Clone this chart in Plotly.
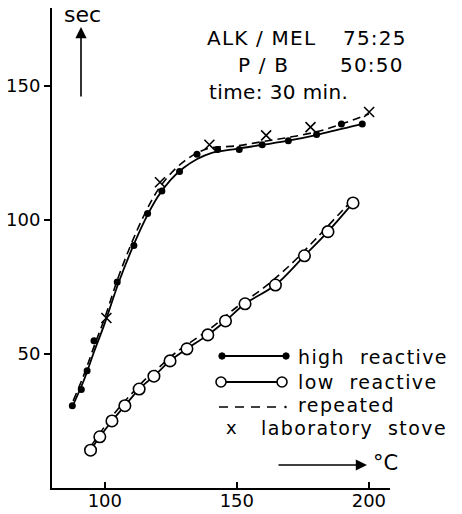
import plotly.graph_objects as go

# ---------------- data ----------------
# high reactive: measured points (filled dots)
high_x = [87.7, 91.1, 93.3, 95.9, 104.7, 111.0, 116.2, 121.6, 128.3, 134.9,
          142.7, 150.9, 159.6, 169.5, 180.2, 189.6, 197.5]
high_y = [30.7, 36.7, 43.7, 54.9, 76.8, 90.4, 102.4, 110.8, 118.0, 124.5,
          126.2, 126.2, 128.0, 129.5, 131.8, 135.7, 135.7]
# high reactive: drawn smooth curve (solid)
high_curve_x = [88, 92, 96, 100, 105, 110, 115, 120, 125, 130, 135, 140,
                150, 160, 170, 180, 190, 197.5]
high_curve_y = [31.0, 40.0, 51.0, 61.5, 76.0, 88.5, 99.5, 108.5, 115.0, 119.5,
                122.7, 124.8, 126.5, 128.0, 129.6, 131.6, 134.0, 135.7]
# high reactive: repeated (dashed)
high_rep_x = [88, 92, 96, 100, 105, 110, 115, 120, 125, 130, 135, 140,
              150, 160, 170, 180, 190, 200]
high_rep_y = [32.5, 42.0, 53.0, 63.5, 78.3, 91.0, 102.0, 111.0, 117.3, 121.8,
              125.0, 126.8, 127.6, 129.2, 130.8, 132.8, 135.8, 139.5]

# low reactive: measured points (open circles) on the solid curve
low_x = [94.6, 98.1, 102.7, 107.6, 113.0, 118.6, 124.7, 131.1, 139.0, 145.7,
         153.1, 164.6, 175.6, 184.5, 194.0]
low_y = [14.1, 19.1, 25.0, 30.7, 36.9, 41.7, 47.4, 51.9, 57.1, 62.3,
         68.7, 75.7, 86.6, 95.6, 106.3]
# low reactive: repeated (dashed)
low_rep_x = [95, 100, 105, 110, 115, 120, 125, 130, 140, 150, 160, 170, 180, 190, 194]
low_rep_y = [16.0, 23.0, 29.5, 35.0, 40.2, 44.5, 49.0, 52.7, 59.5, 67.5,
             74.5, 83.0, 93.0, 103.5, 107.5]

# laboratory stove (crosses)
stove_x = [100.6, 120.9, 139.6, 161.1, 177.9, 200.1]
stove_y = [63.4, 114.0, 128.0, 131.5, 134.6, 140.2]

x_ticks = [100, 150, 200]
y_ticks = [50, 100, 150]

# ---------------- figure ----------------
W, H = 462, 514
L, R, T, B = 52, 72, 8, 26
PW, PH = W - L - R, H - T - B
FONT = "DejaVu Sans"


def px(x):
    return (x - L) / PW


def py(y):
    return (H - B - y) / PH


fig = go.Figure()

DASH = "8px,5px"
fig.add_trace(go.Scatter(x=high_rep_x, y=high_rep_y, mode="lines",
                         line=dict(color="black", width=1.6, dash=DASH, shape="spline"),
                         hoverinfo="skip"))
fig.add_trace(go.Scatter(x=high_curve_x, y=high_curve_y, mode="lines",
                         line=dict(color="black", width=1.8, shape="spline"),
                         hoverinfo="skip"))
fig.add_trace(go.Scatter(x=high_x, y=high_y, mode="markers",
                         marker=dict(color="black", size=7, symbol="circle")))

fig.add_trace(go.Scatter(x=low_rep_x, y=low_rep_y, mode="lines",
                         line=dict(color="black", width=1.6, dash=DASH, shape="spline"),
                         hoverinfo="skip"))
fig.add_trace(go.Scatter(x=low_x, y=low_y, mode="lines+markers",
                         line=dict(color="black", width=1.8, shape="spline"),
                         marker=dict(color="white", size=11.5, symbol="circle",
                                     line=dict(color="black", width=1.6))))

fig.add_trace(go.Scatter(x=stove_x, y=stove_y, mode="markers",
                         marker=dict(color="black", size=10, symbol="x-thin",
                                     line=dict(color="black", width=1.6))))

ann = []


def text(s, x, y, size=20, xanchor="left", ls=1.0):
    ann.append(dict(text=f'<span style="letter-spacing:{ls}px">{s}</span>',
                    x=px(x), y=py(y), xref="paper", yref="paper",
                    showarrow=False, xanchor=xanchor, yanchor="middle",
                    font=dict(family=FONT, size=size, color="black")))


text("ALK / MEL", 205, 38, size=20, ls=1.2)
text("75:25", 341, 38, size=20, ls=1.2)
text("P / B", 236, 65, size=20, ls=1.2)
text("50:50", 338, 65, size=20, ls=1.2)
text("time: 30 min.", 207, 92, size=20, ls=0.4)
text("sec", 82, 15, size=22, xanchor="center", ls=0)
text("°C", 371, 463, size=21, ls=0)
text("high  reactive", 296, 357, size=19, ls=1.4)
text("low  reactive", 296, 382, size=19, ls=1.4)
text("repeated", 296, 405, size=19, ls=1.4)
text("x", 231, 427, size=18, xanchor="center", ls=0)
text("laboratory  stove", 259, 428, size=19, ls=1.4)

# arrows (tail offsets in pixels)
ann.append(dict(x=px(81), y=py(27), ax=0, ay=71, xref="paper", yref="paper",
                axref="pixel", ayref="pixel", showarrow=True, arrowhead=2,
                arrowsize=1.4, arrowwidth=1.6, arrowcolor="black", text=""))
ann.append(dict(x=px(367), y=py(465), ax=-90, ay=0, xref="paper", yref="paper",
                axref="pixel", ayref="pixel", showarrow=True, arrowhead=2,
                arrowsize=1.4, arrowwidth=1.6, arrowcolor="black", text=""))

shapes = []
# legend samples
shapes.append(dict(type="line", xref="paper", yref="paper",
                   x0=px(222), x1=px(286), y0=py(356), y1=py(356),
                   line=dict(color="black", width=1.8)))
for cx in (222, 286):
    r = 3.2
    shapes.append(dict(type="circle", xref="paper", yref="paper",
                       x0=px(cx - r), x1=px(cx + r), y0=py(356 + r), y1=py(356 - r),
                       fillcolor="black", line=dict(color="black", width=1)))
shapes.append(dict(type="line", xref="paper", yref="paper",
                   x0=px(226), x1=px(277), y0=py(382), y1=py(382),
                   line=dict(color="black", width=1.8)))
for cx in (221, 282):
    r = 5
    shapes.append(dict(type="circle", xref="paper", yref="paper",
                       x0=px(cx - r), x1=px(cx + r), y0=py(382 + r), y1=py(382 - r),
                       fillcolor="white", line=dict(color="black", width=1.6)))
shapes.append(dict(type="line", xref="paper", yref="paper",
                   x0=px(219), x1=px(282), y0=py(407), y1=py(407),
                   line=dict(color="black", width=1.6, dash="9px,7px")))
shapes.append(dict(type="circle", xref="paper", yref="paper",
                   x0=px(284.5), x1=px(286.5), y0=py(408), y1=py(406),
                   fillcolor="black", line=dict(color="black", width=0.5)))

fig.update_layout(
    template="none",
    width=W, height=H,
    margin=dict(l=L, r=R, t=T, b=B, pad=0, autoexpand=False),
    paper_bgcolor="white", plot_bgcolor="white",
    showlegend=False,
    annotations=ann, shapes=shapes,
    xaxis=dict(range=[80, 208], tickvals=x_ticks, ticktext=[str(v) for v in x_ticks],
               ticks="inside", ticklen=6, tickwidth=2, tickcolor="black",
               ticklabelstandoff=-5,
               showline=True, linecolor="black", linewidth=2, automargin=False,
               showgrid=False, zeroline=False,
               tickfont=dict(family=FONT, size=18, color="black")),
    yaxis=dict(range=[0, 179], tickvals=y_ticks, ticktext=[str(v) for v in y_ticks],
               ticks="outside", ticklen=6, tickwidth=2, tickcolor="black",
               showline=True, linecolor="black", linewidth=2, automargin=False,
               showgrid=False, zeroline=False,
               tickfont=dict(family=FONT, size=18, color="black")),
)

fig.write_html("out.html")
